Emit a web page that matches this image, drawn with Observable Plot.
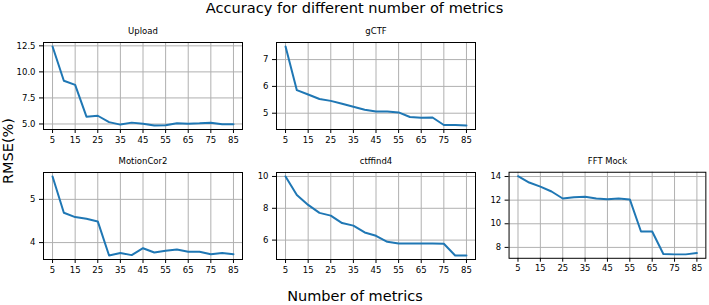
<!DOCTYPE html>
<html><head><meta charset="utf-8">
<script src="https://cdn.jsdelivr.net/npm/d3@7"></script>
<script src="https://cdn.jsdelivr.net/npm/@observablehq/plot@0.6"></script>
<style>
body{margin:0;background:#fff;font-family:"DejaVu Sans",sans-serif;}
#root{position:relative;width:709px;height:305px;overflow:hidden;background:#fff;}
.panel{position:absolute;}
.lbl{position:absolute;white-space:nowrap;color:#000;line-height:1;font-family:"DejaVu Sans",sans-serif;}
</style></head><body><div id="root"></div>
<script>
// ---- data ----
const metrics = [5,10,15,20,25,30,35,40,45,50,55,60,65,70,75,80,85];
const xTicks = [5,15,25,35,45,55,65,75,85];

const upload     = [12.44,9.15,8.75,5.70,5.79,5.18,4.94,5.13,5.03,4.85,4.88,5.07,5.03,5.06,5.12,4.97,4.97];
const gctf       = [7.49,5.86,5.70,5.53,5.46,5.35,5.24,5.13,5.06,5.06,5.03,4.86,4.83,4.84,4.56,4.56,4.54];
const motioncor2 = [5.53,4.69,4.59,4.55,4.49,3.70,3.76,3.71,3.87,3.77,3.81,3.84,3.79,3.79,3.73,3.76,3.73];
const ctffind4   = [10.0,8.84,8.21,7.71,7.54,7.07,6.91,6.48,6.27,5.89,5.79,5.79,5.79,5.79,5.77,5.03,5.03];
const fftMock    = [14.03,13.49,13.15,12.73,12.14,12.25,12.28,12.14,12.08,12.14,12.06,9.35,9.35,7.44,7.41,7.41,7.52];

const titles = ["Upload","gCTF","MotionCor2","ctffind4","FFT Mock"];
const seriesList = [upload,gctf,motioncor2,ctffind4,fftMock];
const yTickList = [[5,7.5,10,12.5],[5,6,7],[4,5],[6,8,10],[8,10,12,14]];
const yFormats = [".1f","d","d","d","d"];

const mainTitle = "Accuracy for different number of metrics";
const xLabel = "Number of metrics";
const yLabel = "RMSE(%)";

// ---- layout ----
const layout = [
  {left:42.7, top:41.6},
  {left:275.7, top:41.6},
  {left:42.7, top:171.8},
  {left:275.7, top:171.8},
  {left:508.7, top:171.8}
];
const mL=40, mR=4, mT=22, mB=18, fw=199, fh=87;

const root = document.getElementById("root");

seriesList.forEach((vals, i) => {
  const lo = d3.min(vals), hi = d3.max(vals), pad = (hi - lo) * 0.05;
  const rows = metrics.map((m, j) => ({m, v: vals[j]}));
  const chart = Plot.plot({
    width: mL + fw + mR, height: mT + fh + mB,
    marginLeft: mL, marginRight: mR, marginTop: mT, marginBottom: mB,
    style: {fontFamily: "DejaVu Sans", fontSize: "8.5px", background: "transparent", color: "#000", overflow: "visible"},
    x: {domain: [1, 89]},
    y: {domain: [lo - pad, hi + pad]},
    marks: [
      Plot.gridX(xTicks, {stroke: "#b0b0b0", strokeOpacity: 1, strokeWidth: 1}),
      Plot.gridY(yTickList[i], {stroke: "#b0b0b0", strokeOpacity: 1, strokeWidth: 1}),
      Plot.line(rows, {x: "m", y: "v", stroke: "#1f77b4", strokeWidth: 2}),
      Plot.frame({stroke: "#000", strokeWidth: 1}),
      Plot.axisX(xTicks, {tickSize: 4, tickPadding: 3, label: null, fill: "#000", stroke: "#000"}),
      Plot.axisY(yTickList[i], {tickSize: 4, tickPadding: 4, label: null, tickFormat: d3.format(yFormats[i]), fill: "#000", stroke: "#000"}),
      Plot.text([titles[i]], {frameAnchor: "top", lineAnchor: "middle", dy: -11, fontSize: 8.5, fill: "#000"})
    ]
  });
  const d = document.createElement("div");
  d.className = "panel";
  d.style.left = (layout[i].left - mL) + "px";
  d.style.top = (layout[i].top - mT) + "px";
  d.appendChild(chart);
  root.appendChild(d);
});

function addLabel(text, css) {
  const d = document.createElement("div");
  d.className = "lbl";
  d.textContent = text;
  Object.assign(d.style, css);
  root.appendChild(d);
}
addLabel(mainTitle, {left: "354.5px", top: "1.3px", fontSize: "14.6px", transform: "translateX(-50%)"});
addLabel(xLabel, {left: "355px", top: "289.3px", fontSize: "14.5px", transform: "translateX(-50%)"});
addLabel(yLabel, {left: "7.8px", top: "151px", fontSize: "14.5px", transform: "translate(-50%,-50%) rotate(-90deg)"});
</script></body></html>
